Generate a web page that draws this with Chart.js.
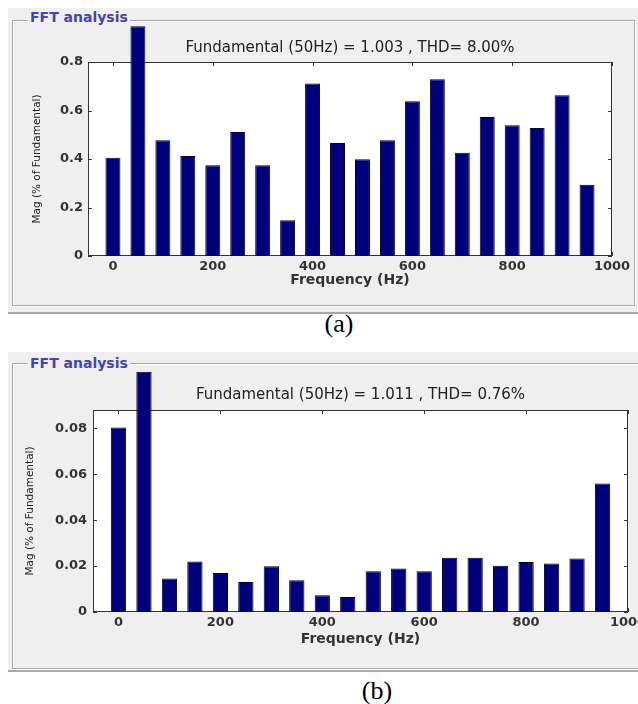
<!DOCTYPE html>
<html>
<head>
<meta charset="utf-8">
<script src="https://cdn.jsdelivr.net/npm/chart.js@4"></script>
<style>
  html, body { margin: 0; padding: 0; background: #fff; width: 638px; height: 704px; overflow: hidden; position: relative; }
  .win { position: absolute; background: #efefef; border-bottom: 2px solid #a8a8a8; }
  .group { position: absolute; border: 1px solid #a9a9a9; box-shadow: inset 1px 1px 0 #fff, 1px 1px 0 #fff; }
  .legend { position: absolute; background: #efefef; color: #4545b0; font: bold 14px "DejaVu Sans"; padding: 0 2px; line-height: 16px; }
  .cap { position: absolute; font: 26px "Liberation Serif"; color: #000; transform: translate(-50%, -50%); }
  canvas { position: absolute; }
</style>
</head>
<body>
<div class="win" style="left:8px; top:8px; width:630px; height:304px;"></div>
<div class="group" style="left:12px; top:20px; width:621px; height:284px;"></div>
<div class="legend" style="left:28px; top:9px;">FFT analysis</div>
<canvas id="fftA" width="623" height="285" style="left:12px; top:20px;"></canvas>
<div class="cap" style="left:339px; top:324px;">(a)</div>

<div class="win" style="left:8px; top:352px; width:700px; height:318px;"></div>
<div class="group" style="left:12px; top:363px; width:700px; height:304px;"></div>
<div class="legend" style="left:28px; top:355px;">FFT analysis</div>
<canvas id="fftB" width="660" height="305" style="left:12px; top:363px;"></canvas>
<div class="cap" style="left:377px; top:691px;">(b)</div>

<script>
// harmonic frequencies (Hz)
var freqs = [0, 50, 100, 150, 200, 250, 300, 350, 400, 450, 500, 550, 600, 650, 700, 750, 800, 850, 900, 950];
// (a) magnitudes
var magA = [0.405, 0.947, 0.477, 0.412, 0.374, 0.511, 0.374, 0.147, 0.711, 0.466,
            0.399, 0.477, 0.638, 0.729, 0.426, 0.573, 0.539, 0.528, 0.663, 0.294];
// (b) magnitudes
var magB = [0.0804, 0.1047, 0.0146, 0.0220, 0.0170, 0.0131, 0.0199, 0.0138, 0.0073, 0.0065,
            0.0178, 0.0189, 0.0178, 0.0236, 0.0236, 0.0201, 0.0218, 0.0211, 0.0233, 0.0560];
var xTicks = [0, 200, 400, 600, 800, 1000];
var yTicksA = [0, 0.2, 0.4, 0.6, 0.8];
var yTicksB = [0, 0.02, 0.04, 0.06, 0.08];
var titleA = 'Fundamental (50Hz) = 1.003 , THD= 8.00%';
var titleB = 'Fundamental (50Hz) = 1.011 , THD= 0.76%';

var frame = {
  id: 'frame',
  beforeDraw(chart) {
    var a = chart.chartArea, ctx = chart.ctx;
    ctx.save();
    ctx.fillStyle = '#fff';
    ctx.fillRect(a.left, a.top, a.right - a.left, a.bottom - a.top);
    ctx.restore();
  },
  beforeDatasetsDraw(chart) {
    var a = chart.chartArea, ctx = chart.ctx;
    var x = chart.scales.x, y = chart.scales.y;
    ctx.save();
    ctx.strokeStyle = '#333';
    ctx.lineWidth = 1;
    ctx.strokeRect(Math.round(a.left) + 0.5, Math.round(a.top) + 0.5,
                   Math.round(a.right - a.left) - 1, Math.round(a.bottom - a.top) - 1);
    ctx.beginPath();
    x.ticks.forEach(function (t) {
      var px = Math.round(x.getPixelForValue(t.value)) + 0.5;
      ctx.moveTo(px, a.bottom); ctx.lineTo(px, a.bottom - 4);
      ctx.moveTo(px, a.top); ctx.lineTo(px, a.top + 4);
    });
    y.ticks.forEach(function (t) {
      var py = Math.round(y.getPixelForValue(t.value)) + 0.5;
      ctx.moveTo(a.left, py); ctx.lineTo(a.left + 4, py);
      ctx.moveTo(a.right, py); ctx.lineTo(a.right - 4, py);
    });
    ctx.stroke();
    ctx.restore();
  }
};

function fftChart(id, mags, yMax, yTicks, title, g) {
  return new Chart(id, {
    type: 'bar',
    data: {
      datasets: [{
        data: freqs.map(function (f, i) { return { x: f, y: mags[i] }; }),
        backgroundColor: '#00007d',
        borderColor: '#000030',
        borderWidth: 1,
        barPercentage: 0.6,
        categoryPercentage: 1,
        clip: false,
      }],
    },
    options: {
      responsive: false,
      animation: false,
      layout: { padding: { top: 0, right: g.right, bottom: 0, left: 0 } },
      plugins: {
        legend: { display: false },
        tooltip: { enabled: false },
        title: {
          display: true,
          text: title,
          fullSize: false,
          color: '#222',
          font: { family: 'DejaVu Sans', size: 15, weight: 'normal' },
          padding: { top: g.titleTop, bottom: g.titleBottom },
        },
      },
      scales: {
        x: {
          type: 'linear',
          min: -50,
          max: 1000,
          offset: false,
          grid: { display: false, drawTicks: false },
          border: { display: false },
          afterBuildTicks: function (s) { s.ticks = xTicks.map(function (v) { return { value: v }; }); },
          afterFit: function (s) { s.height = g.xh; },
          ticks: {
            padding: 3,
            color: '#333',
            font: { family: 'DejaVu Sans', size: 13, weight: 'bold' },
            maxRotation: 0,
            callback: function (v) { return String(v); },
          },
          title: {
            display: true,
            text: 'Frequency (Hz)',
            color: '#333',
            font: { family: 'DejaVu Sans', size: 14, weight: 'bold' },
            padding: { top: 0, bottom: g.xTitleBottom },
          },
        },
        y: {
          min: 0,
          max: yMax,
          grid: { display: false, drawTicks: false },
          border: { display: false },
          afterBuildTicks: function (s) { s.ticks = yTicks.map(function (v) { return { value: v }; }); },
          afterFit: function (s) { s.width = g.yw; },
          ticks: {
            padding: g.yPad,
            color: '#333',
            font: { family: 'DejaVu Sans', size: 13, weight: 'bold' },
            callback: function (v) { return String(+v.toFixed(3)); },
          },
          title: {
            display: true,
            text: 'Mag (% of Fundamental)',
            color: '#222',
            font: { family: 'DejaVu Sans', size: 10.5, weight: 'normal' },
            padding: { top: g.yTitleTop, bottom: 0 },
          },
        },
      },
    },
    plugins: [frame],
  });
}

fftChart('fftA', magA, 0.8, yTicksA, titleA,
  { right: 23, titleTop: 19, titleBottom: 5, xh: 49, yw: 76, xTitleBottom: 16, yTitleTop: 19, yPad: 5 });
fftChart('fftB', magB, 0.088, yTicksB, titleB,
  { right: 44, titleTop: 23, titleBottom: 6, xh: 56, yw: 81, xTitleBottom: 20, yTitleTop: 12, yPad: 6 });
</script>
</body>
</html>
